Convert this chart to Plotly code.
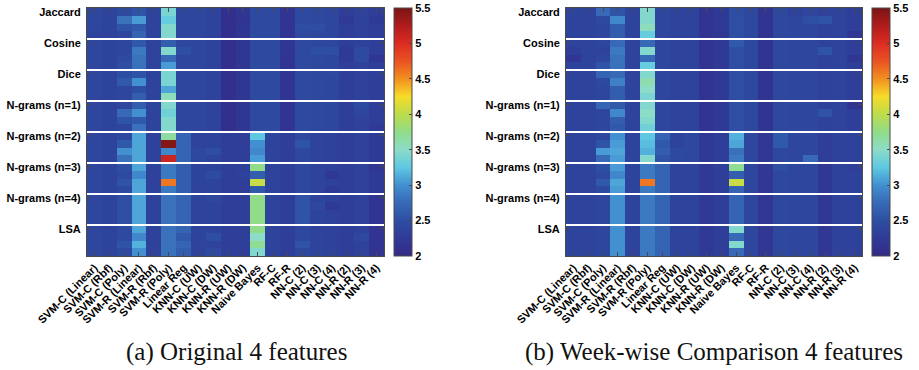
import plotly.graph_objects as go

# Classifier columns and similarity-measure row groups (4 feature rows per group)
classifiers = [
    "SVM-C (Linear)", "SVM-C (Rbf)", "SVM-C (Poly)", "SVM-R (Linear)",
    "SVM-R (Rbf)", "SVM-R (Poly)", "Linear Reg", "KNN-C (UW)", "KNN-C (DW)",
    "KNN-R (UW)", "KNN-R (DW)", "Naive Bayes", "RF-C", "RF-R",
    "NN-C (2)", "NN-C (3)", "NN-C (4)", "NN-R (2)", "NN-R (3)", "NN-R (4)",
]
groups = ["Jaccard", "Cosine", "Dice", "N-grams (n=1)", "N-grams (n=2)",
          "N-grams (n=3)", "N-grams (n=4)", "LSA"]
rows_per_group = 4
z_min, z_max = 2.0, 5.5
colorbar_ticks = [2, 2.5, 3, 3.5, 4, 4.5, 5, 5.5]

# (a) Original 4 features
original = [
    [2.40, 2.38, 2.45, 2.55, 2.38, 3.40, 2.40, 2.40, 2.38, 2.10, 2.20, 2.45, 2.45, 2.15, 2.45, 2.42, 2.40, 2.30, 2.35, 2.30],
    [2.40, 2.38, 2.80, 3.05, 2.38, 3.30, 2.40, 2.40, 2.38, 2.10, 2.15, 2.45, 2.45, 2.15, 2.45, 2.42, 2.40, 2.25, 2.35, 2.25],
    [2.40, 2.38, 2.55, 2.60, 2.38, 3.45, 2.40, 2.40, 2.38, 2.10, 2.20, 2.45, 2.45, 2.15, 2.50, 2.50, 2.40, 2.30, 2.35, 2.30],
    [2.38, 2.35, 2.40, 2.70, 2.38, 3.45, 2.40, 2.40, 2.38, 2.10, 2.20, 2.45, 2.45, 2.15, 2.45, 2.42, 2.40, 2.30, 2.35, 2.30],
    [2.40, 2.38, 2.40, 2.60, 2.38, 2.65, 2.40, 2.40, 2.38, 2.10, 2.20, 2.45, 2.45, 2.20, 2.45, 2.42, 2.40, 2.30, 2.35, 2.30],
    [2.40, 2.38, 2.40, 2.85, 2.38, 3.45, 2.50, 2.40, 2.38, 2.10, 2.20, 2.45, 2.45, 2.20, 2.45, 2.50, 2.50, 2.25, 2.45, 2.30],
    [2.40, 2.38, 2.45, 2.80, 2.38, 2.75, 2.40, 2.40, 2.38, 2.10, 2.20, 2.45, 2.45, 2.15, 2.45, 2.42, 2.40, 2.25, 2.45, 2.20],
    [2.40, 2.38, 2.50, 2.80, 2.38, 3.05, 2.40, 2.40, 2.38, 2.10, 2.20, 2.45, 2.45, 2.15, 2.45, 2.42, 2.40, 2.30, 2.35, 2.30],
    [2.40, 2.38, 2.50, 2.55, 2.38, 3.40, 2.40, 2.40, 2.38, 2.10, 2.20, 2.45, 2.45, 2.15, 2.45, 2.42, 2.45, 2.30, 2.35, 2.30],
    [2.40, 2.38, 2.60, 3.00, 2.38, 3.40, 2.40, 2.40, 2.38, 2.10, 2.20, 2.45, 2.45, 2.15, 2.45, 2.42, 2.40, 2.30, 2.35, 2.30],
    [2.40, 2.38, 2.40, 2.50, 2.38, 3.10, 2.40, 2.40, 2.38, 2.10, 2.20, 2.45, 2.45, 2.15, 2.45, 2.42, 2.40, 2.30, 2.35, 2.30],
    [2.40, 2.38, 2.40, 2.65, 2.38, 3.55, 2.40, 2.40, 2.38, 2.10, 2.20, 2.45, 2.45, 2.15, 2.45, 2.42, 2.40, 2.30, 2.35, 2.30],
    [2.40, 2.38, 2.40, 2.65, 2.38, 3.45, 2.40, 2.40, 2.35, 2.10, 2.20, 2.45, 2.45, 2.15, 2.45, 2.42, 2.40, 2.30, 2.45, 2.30],
    [2.40, 2.38, 2.75, 3.00, 2.38, 3.35, 2.40, 2.40, 2.38, 2.10, 2.20, 2.45, 2.45, 2.15, 2.45, 2.42, 2.40, 2.30, 2.40, 2.30],
    [2.40, 2.38, 2.55, 2.60, 2.38, 3.45, 2.40, 2.40, 2.38, 2.10, 2.20, 2.45, 2.45, 2.15, 2.45, 2.42, 2.40, 2.30, 2.35, 2.30],
    [2.40, 2.38, 2.40, 2.80, 2.38, 3.45, 2.40, 2.40, 2.38, 2.10, 2.20, 2.45, 2.45, 2.15, 2.45, 2.42, 2.40, 2.30, 2.35, 2.25],
    [2.40, 2.38, 2.45, 3.10, 2.35, 3.65, 2.70, 2.38, 2.36, 2.30, 2.30, 3.25, 2.38, 2.30, 2.42, 2.38, 2.35, 2.30, 2.35, 2.25],
    [2.40, 2.38, 2.60, 3.10, 2.35, 5.45, 2.70, 2.38, 2.36, 2.30, 2.30, 3.00, 2.38, 2.30, 2.55, 2.38, 2.35, 2.30, 2.35, 2.25],
    [2.40, 2.38, 3.00, 3.10, 2.35, 2.95, 2.70, 2.42, 2.50, 2.30, 2.30, 2.95, 2.38, 2.30, 2.42, 2.38, 2.35, 2.30, 2.35, 2.25],
    [2.40, 2.38, 2.80, 3.10, 2.35, 5.10, 2.70, 2.42, 2.36, 2.30, 2.30, 3.05, 2.38, 2.30, 2.42, 2.38, 2.35, 2.30, 2.35, 2.25],
    [2.40, 2.38, 2.50, 3.10, 2.35, 2.85, 2.65, 2.38, 2.36, 2.30, 2.30, 3.75, 2.35, 2.30, 2.42, 2.38, 2.35, 2.30, 2.35, 2.20],
    [2.40, 2.38, 2.45, 2.95, 2.35, 2.85, 2.65, 2.38, 2.48, 2.30, 2.35, 2.65, 2.38, 2.30, 2.42, 2.38, 2.20, 2.30, 2.35, 2.25],
    [2.40, 2.38, 2.55, 3.10, 2.35, 4.60, 2.65, 2.38, 2.36, 2.30, 2.30, 4.05, 2.38, 2.30, 2.42, 2.38, 2.35, 2.30, 2.35, 2.25],
    [2.40, 2.38, 2.45, 3.10, 2.35, 2.85, 2.65, 2.38, 2.36, 2.30, 2.30, 2.60, 2.38, 2.30, 2.42, 2.38, 2.25, 2.30, 2.35, 2.25],
    [2.40, 2.38, 2.50, 3.10, 2.35, 2.80, 2.70, 2.38, 2.42, 2.30, 2.30, 3.75, 2.38, 2.30, 2.55, 2.38, 2.35, 2.30, 2.35, 2.15],
    [2.40, 2.38, 2.50, 3.10, 2.35, 2.80, 2.70, 2.38, 2.36, 2.30, 2.30, 3.75, 2.38, 2.30, 2.55, 2.42, 2.25, 2.30, 2.35, 2.15],
    [2.40, 2.38, 2.50, 3.10, 2.35, 2.80, 2.70, 2.38, 2.36, 2.30, 2.30, 3.75, 2.38, 2.30, 2.55, 2.38, 2.35, 2.30, 2.35, 2.15],
    [2.40, 2.38, 2.50, 3.10, 2.35, 2.80, 2.70, 2.38, 2.36, 2.30, 2.30, 3.75, 2.38, 2.30, 2.55, 2.38, 2.35, 2.30, 2.35, 2.15],
    [2.40, 2.38, 2.45, 3.10, 2.35, 2.80, 2.70, 2.38, 2.36, 2.30, 2.30, 3.75, 2.38, 2.30, 2.42, 2.38, 2.35, 2.30, 2.35, 2.15],
    [2.40, 2.38, 2.45, 2.95, 2.35, 2.80, 2.60, 2.38, 2.50, 2.30, 2.30, 3.50, 2.38, 2.30, 2.42, 2.38, 2.35, 2.30, 2.42, 2.15],
    [2.40, 2.38, 2.55, 3.15, 2.35, 2.80, 2.70, 2.38, 2.36, 2.30, 2.30, 3.70, 2.38, 2.30, 2.55, 2.38, 2.35, 2.30, 2.35, 2.15],
    [2.40, 2.38, 2.45, 3.00, 2.35, 2.80, 2.65, 2.38, 2.45, 2.30, 2.30, 3.45, 2.38, 2.30, 2.42, 2.38, 2.35, 2.30, 2.35, 2.15],
]

# (b) Week-wise comparison 4 features
weekwise = [
    [2.38, 2.38, 2.75, 2.55, 2.38, 3.45, 2.40, 2.36, 2.38, 2.15, 2.25, 2.50, 2.42, 2.15, 2.42, 2.35, 2.40, 2.35, 2.38, 2.30],
    [2.38, 2.38, 2.45, 2.95, 2.38, 3.45, 2.40, 2.36, 2.38, 2.15, 2.25, 2.50, 2.42, 2.15, 2.42, 2.40, 2.50, 2.55, 2.38, 2.30],
    [2.38, 2.38, 2.40, 2.65, 2.38, 3.55, 2.40, 2.36, 2.38, 2.15, 2.25, 2.50, 2.42, 2.15, 2.42, 2.40, 2.40, 2.35, 2.38, 2.30],
    [2.38, 2.38, 2.40, 2.65, 2.38, 3.30, 2.40, 2.36, 2.38, 2.15, 2.20, 2.50, 2.42, 2.15, 2.42, 2.40, 2.40, 2.35, 2.38, 2.20],
    [2.38, 2.38, 2.40, 2.75, 2.38, 2.75, 2.40, 2.36, 2.38, 2.15, 2.25, 2.60, 2.42, 2.15, 2.42, 2.40, 2.40, 2.35, 2.38, 2.30],
    [2.30, 2.38, 2.35, 2.85, 2.38, 3.45, 2.40, 2.36, 2.38, 2.15, 2.25, 2.50, 2.42, 2.15, 2.42, 2.40, 2.40, 2.55, 2.38, 2.30],
    [2.20, 2.38, 2.40, 2.80, 2.38, 2.75, 2.40, 2.36, 2.38, 2.15, 2.25, 2.50, 2.42, 2.15, 2.42, 2.40, 2.40, 2.35, 2.38, 2.20],
    [2.38, 2.38, 2.55, 2.80, 2.38, 3.30, 2.40, 2.36, 2.38, 2.15, 2.25, 2.50, 2.42, 2.15, 2.42, 2.40, 2.40, 2.35, 2.38, 2.30],
    [2.38, 2.38, 2.70, 2.75, 2.38, 3.45, 2.40, 2.36, 2.38, 2.15, 2.25, 2.50, 2.42, 2.15, 2.42, 2.40, 2.40, 2.35, 2.38, 2.30],
    [2.38, 2.38, 2.45, 2.90, 2.38, 3.60, 2.40, 2.36, 2.38, 2.15, 2.25, 2.50, 2.42, 2.15, 2.42, 2.40, 2.40, 2.35, 2.38, 2.30],
    [2.38, 2.38, 2.40, 2.65, 2.38, 3.50, 2.40, 2.36, 2.38, 2.15, 2.25, 2.50, 2.42, 2.15, 2.42, 2.40, 2.40, 2.35, 2.38, 2.30],
    [2.38, 2.38, 2.40, 2.65, 2.38, 3.40, 2.40, 2.36, 2.38, 2.15, 2.25, 2.50, 2.42, 2.15, 2.42, 2.40, 2.40, 2.35, 2.38, 2.30],
    [2.38, 2.38, 2.70, 2.60, 2.38, 3.45, 2.40, 2.36, 2.38, 2.15, 2.25, 2.50, 2.42, 2.15, 2.42, 2.40, 2.40, 2.35, 2.38, 2.15],
    [2.38, 2.38, 2.40, 2.95, 2.38, 3.50, 2.40, 2.36, 2.38, 2.15, 2.25, 2.50, 2.42, 2.15, 2.42, 2.40, 2.40, 2.55, 2.38, 2.30],
    [2.38, 2.38, 2.40, 2.65, 2.38, 3.45, 2.40, 2.36, 2.38, 2.15, 2.25, 2.50, 2.42, 2.15, 2.42, 2.40, 2.40, 2.35, 2.38, 2.30],
    [2.38, 2.38, 2.40, 2.60, 2.38, 3.35, 2.40, 2.36, 2.38, 2.15, 2.25, 2.50, 2.42, 2.15, 2.42, 2.40, 2.40, 2.35, 2.38, 2.30],
    [2.38, 2.38, 2.40, 3.00, 2.38, 3.25, 2.70, 2.36, 2.42, 2.25, 2.30, 3.15, 2.40, 2.22, 2.60, 2.40, 2.40, 2.30, 2.35, 2.35],
    [2.38, 2.38, 2.55, 3.05, 2.38, 3.20, 2.60, 2.36, 2.42, 2.25, 2.30, 3.10, 2.40, 2.22, 2.60, 2.40, 2.40, 2.30, 2.35, 2.35],
    [2.38, 2.38, 3.05, 3.10, 2.38, 3.15, 2.65, 2.45, 2.42, 2.25, 2.30, 2.80, 2.40, 2.22, 2.42, 2.40, 2.40, 2.30, 2.35, 2.35],
    [2.38, 2.38, 2.75, 3.05, 2.38, 3.45, 2.55, 2.45, 2.42, 2.25, 2.30, 2.85, 2.40, 2.22, 2.42, 2.40, 2.75, 2.30, 2.35, 2.35],
    [2.38, 2.38, 2.50, 3.05, 2.38, 2.85, 2.70, 2.36, 2.38, 2.25, 2.30, 3.70, 2.40, 2.22, 2.50, 2.40, 2.40, 2.22, 2.35, 2.30],
    [2.38, 2.38, 2.45, 2.95, 2.38, 2.85, 2.70, 2.36, 2.38, 2.25, 2.30, 2.65, 2.40, 2.22, 2.42, 2.40, 2.40, 2.22, 2.35, 2.35],
    [2.38, 2.38, 2.60, 3.10, 2.38, 4.60, 2.70, 2.36, 2.38, 2.25, 2.30, 4.05, 2.40, 2.22, 2.42, 2.40, 2.40, 2.22, 2.35, 2.35],
    [2.38, 2.38, 2.45, 3.05, 2.38, 2.85, 2.70, 2.36, 2.38, 2.25, 2.30, 2.70, 2.40, 2.22, 2.42, 2.40, 2.40, 2.22, 2.35, 2.35],
    [2.38, 2.38, 2.40, 3.00, 2.38, 2.85, 2.70, 2.36, 2.38, 2.25, 2.30, 2.70, 2.40, 2.22, 2.42, 2.40, 2.40, 2.22, 2.35, 2.35],
    [2.38, 2.38, 2.40, 3.00, 2.38, 2.85, 2.70, 2.36, 2.38, 2.25, 2.30, 2.70, 2.40, 2.22, 2.42, 2.40, 2.40, 2.22, 2.35, 2.35],
    [2.38, 2.38, 2.40, 3.00, 2.38, 2.85, 2.70, 2.36, 2.38, 2.25, 2.30, 2.70, 2.40, 2.22, 2.42, 2.40, 2.40, 2.22, 2.35, 2.35],
    [2.38, 2.38, 2.40, 3.00, 2.38, 2.85, 2.70, 2.36, 2.38, 2.25, 2.30, 2.70, 2.40, 2.22, 2.42, 2.40, 2.40, 2.22, 2.35, 2.35],
    [2.38, 2.38, 2.40, 3.00, 2.38, 2.85, 2.70, 2.36, 2.38, 2.25, 2.30, 3.45, 2.40, 2.22, 2.42, 2.40, 2.40, 2.22, 2.35, 2.35],
    [2.38, 2.38, 2.40, 3.00, 2.38, 2.85, 2.70, 2.36, 2.38, 2.25, 2.30, 2.75, 2.40, 2.22, 2.42, 2.40, 2.40, 2.22, 2.35, 2.35],
    [2.38, 2.38, 2.40, 3.00, 2.38, 2.85, 2.70, 2.36, 2.38, 2.25, 2.30, 3.45, 2.40, 2.22, 2.42, 2.40, 2.40, 2.22, 2.35, 2.35],
    [2.38, 2.38, 2.40, 3.00, 2.38, 2.85, 2.70, 2.36, 2.38, 2.25, 2.30, 2.75, 2.40, 2.22, 2.42, 2.40, 2.40, 2.22, 2.35, 2.35],
]

captions = ["(a) Original 4 features", "(b) Week-wise Comparison 4 features"]

# Blue-to-dark-red scale
colorscale = [
    [0.000, "#352a87"], [0.071, "#2f3a96"], [0.143, "#2d4ea2"],
    [0.214, "#3769b6"], [0.286, "#4290d0"], [0.357, "#5ec8e2"],
    [0.429, "#8cdcc8"], [0.500, "#90dc88"], [0.571, "#bcdc4c"],
    [0.643, "#f6dc28"], [0.714, "#f29020"], [0.786, "#ea5222"],
    [0.857, "#dc2c22"], [0.929, "#b01c1c"], [1.000, "#7a1414"],
]

W, H = 919, 370
panels = [
    dict(z=original, x0=87, x1=384, cb=394, cap=236),
    dict(z=weekwise, x0=566, x1=862, cb=872, cap=714),
]
plot_top, plot_bottom = 8, 256

n_rows = len(groups) * rows_per_group
label_font = dict(family="Liberation Sans, Arial", size=11, color="black", weight="bold")
frame = "#4a4a4a"

fig = go.Figure()
for i, p in enumerate(panels):
    sfx = "" if i == 0 else str(i + 1)
    fig.add_trace(go.Heatmap(
        z=p["z"], x=list(range(len(classifiers))), y=list(range(n_rows)),
        zmin=z_min, zmax=z_max, colorscale=colorscale,
        xaxis="x" + sfx, yaxis="y" + sfx,
        colorbar=dict(
            x=p["cb"] / W, xanchor="left", xpad=0, ypad=0,
            y=1 - plot_top / H, yanchor="top",
            len=(plot_bottom - plot_top) / H, lenmode="fraction",
            thickness=18, outlinecolor=frame, outlinewidth=1,
            tickvals=colorbar_ticks, ticktext=[f"{t:g}" for t in colorbar_ticks],
            ticks="inside", ticklen=3, tickcolor=frame,
            tickfont=label_font,
        ),
    ))
    dom_y = [1 - plot_bottom / H, 1 - plot_top / H]
    fig.update_layout(**{
        "xaxis" + sfx: dict(
            domain=[p["x0"] / W, p["x1"] / W], anchor="y" + sfx,
            range=[-0.5, len(classifiers) - 0.5],
            tickvals=list(range(len(classifiers))), ticktext=classifiers,
            tickangle=-45, tickfont=label_font, automargin=False,
            ticks="inside", ticklen=4, tickcolor=frame,
            showline=True, linecolor=frame, linewidth=1, mirror="ticks",
            showgrid=False, zeroline=False,
        ),
        "yaxis" + sfx: dict(
            domain=dom_y, anchor="x" + sfx, automargin=False,
            range=[n_rows - 0.5, -0.5],
            tickvals=[g * rows_per_group for g in range(len(groups))],
            ticktext=groups, tickfont=label_font,
            ticks="inside", ticklen=4, tickcolor=frame,
            showline=True, linecolor=frame, linewidth=1, mirror="ticks",
            showgrid=False, zeroline=False, ticklabelstandoff=3,
        ),
    })
    # white separators between measure groups
    for g in range(1, len(groups)):
        yb = g * rows_per_group - 0.5
        fig.add_shape(type="line", xref="x" + sfx, yref="y" + sfx,
                      x0=-0.5, x1=len(classifiers) - 0.5, y0=yb, y1=yb,
                      line=dict(color="white", width=2.2))
    fig.add_annotation(text=captions[i], xref="paper", yref="paper",
                       x=p["cap"] / W, y=(H - 352) / H, xanchor="center", yanchor="middle",
                       showarrow=False,
                       font=dict(family="Liberation Serif, serif", size=25, color="#111"))

fig.update_layout(
    width=W, height=H, margin=dict(l=0, r=0, t=0, b=0, autoexpand=False),
    paper_bgcolor="white", plot_bgcolor="white",
)

fig.write_html("out.html")
